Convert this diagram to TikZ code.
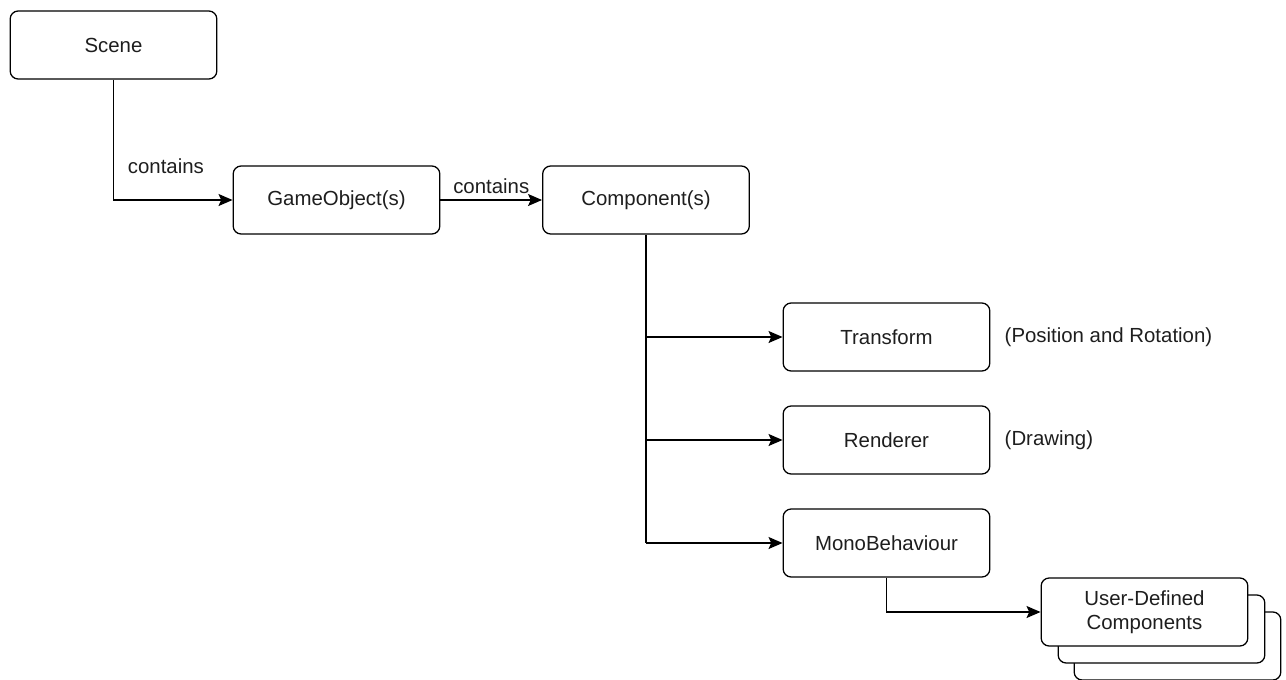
\documentclass[tikz,border=0pt]{standalone}
\usepackage{fontspec}
\setmainfont{Liberation Sans}
\usetikzlibrary{positioning,arrows.meta}
\definecolor{lblgray}{RGB}{30,30,30}

\begin{document}
\begin{tikzpicture}[
  x=0.75pt, y=-0.75pt,
  every node/.style={font=\fontsize{15.3}{18}\selectfont, text=lblgray},
  unitbox/.style={rounded corners=6pt, draw, line width=0.95pt, align=center,
    minimum width=155pt, minimum height=51pt, fill=white},
  arr/.style={-{Stealth[length=10.5pt, width=9pt, inset=2pt]}, line width=0.95pt},
  plain/.style={line width=0.95pt}
]
  \useasboundingbox (0,0) rectangle (1286,679);

  % --- Top chain ---
  \node[unitbox] (scene) at (113.5,45)  {Scene};
  \node[unitbox] (gobj)  at (336.5,200) {GameObject(s)};
  \node[unitbox] (comp)  at (646,200)   {Component(s)};

  \draw[arr] (scene.south) |- (gobj.west)
    node[pos=0.36, anchor=west, xshift=7pt] {contains};
  \draw[arr] (gobj) -- (comp) node[midway, above, yshift=1pt] {contains};

  % --- Built-in components ---
  \node[unitbox] (trans) at (886.5,337) {Transform};
  \node[unitbox] (rend)  at (886.5,440) {Renderer};
  \node[unitbox] (mono)  at (886.5,543) {MonoBehaviour};

  \node[anchor=west] (transnote) at (1000,337) {(Position and Rotation)};
  \node[anchor=west] (rendnote)  at (1000,440) {(Drawing)};

  \coordinate (bus) at (comp.south);
  \draw[plain] (comp.south) -- (bus |- mono.west);
  \draw[arr] (bus |- trans.west) -- (trans.west);
  \draw[arr] (bus |- rend.west)  -- (rend.west);
  \draw[arr] (bus |- mono.west)  -- (mono.west);

  % --- User-defined stack ---
  \node[unitbox] (user3) at (1177.5,646) {};
  \node[unitbox] (user2) at (1161.5,629) {};
  \node[unitbox] (user)  at (1144.5,612) {User-Defined\\Components};

  \draw[arr] (mono.south) |- (user.west);
\end{tikzpicture}
\end{document}
